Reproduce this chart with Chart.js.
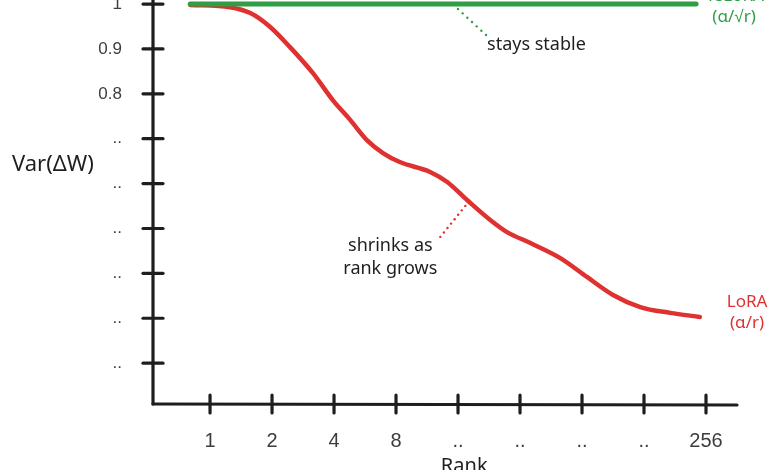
<!DOCTYPE html>
<html>
<head>
<meta charset="utf-8">
<script src="https://cdn.jsdelivr.net/npm/chart.js@4"></script>
<style>
  html, body { margin: 0; padding: 0; background: #fff; }
</style>
</head>
<body>
<canvas id="myChart" width="780" height="470"></canvas>
<script>
// x axis is log2(rank): 0 -> rank 1 ... 8 -> rank 256
var rankTicks = [0, 1, 2, 3, 4, 5, 6, 7, 8];
var rankLabels = ['1', '2', '4', '8', '..', '..', '..', '..', '256'];

var varTicks = [1, 0.9, 0.8, 0.7, 0.6, 0.5, 0.4, 0.3, 0.2];
var varLabels = ['1', '0.9', '0.8', '..', '..', '..', '..', '..', '..'];

// LoRA (alpha/r): variance shrinks as rank grows
var loraX = [-0.32, 0.32, 0.65, 0.97, 1.29, 1.66, 1.98, 2.26, 2.53, 2.79, 3.06, 3.55, 3.82, 4.15, 4.52, 4.79, 5.16, 5.65, 6.08, 6.5, 6.94, 7.42, 7.9];
var loraY = [0.998, 0.993, 0.98, 0.949, 0.904, 0.846, 0.786, 0.742, 0.697, 0.668, 0.648, 0.626, 0.604, 0.563, 0.519, 0.492, 0.468, 0.434, 0.392, 0.352, 0.325, 0.312, 0.303];

// rsLoRA (alpha/sqrt r): stays stable
var rsloraX = [-0.32, 3.8, 7.84];
var rsloraY = [1.0, 1.0, 1.0];

var green = '#2f9e44';
var red = '#e03131';
var ink = '#1e1e1e';
var hand = '"Noto Sans", sans-serif';

function toPoints(xs, ys) {
    return xs.map(function (v, i) { return { x: v, y: ys[i] }; });
}

function line(ctx, x1, y1, x2, y2) {
    ctx.beginPath();
    ctx.moveTo(x1, y1);
    ctx.lineTo(x2, y2);
    ctx.stroke();
}

function dotted(ctx, x1, y1, x2, y2, color) {
    var n = Math.round(Math.hypot(x2 - x1, y2 - y1) / 6);
    ctx.fillStyle = color;
    for (var i = 0; i <= n; i++) {
        ctx.beginPath();
        ctx.arc(x1 + (x2 - x1) * i / n, y1 + (y2 - y1) * i / n, 1.2, 0, Math.PI * 2);
        ctx.fill();
    }
}

const sketchPlugin = {
    id: 'sketch',
    afterDraw(chart) {
        const ctx = chart.ctx;
        const area = chart.chartArea;
        const x = chart.scales.x;
        const y = chart.scales.y;
        ctx.save();

        // axes with ticks crossing them
        ctx.strokeStyle = ink;
        ctx.lineWidth = 3.2;
        ctx.lineCap = 'round';
        line(ctx, area.left, 0, area.left, area.bottom);
        line(ctx, area.left, area.bottom, area.right, area.bottom + 1);
        y.ticks.forEach(function (t) {
            var py = y.getPixelForValue(t.value);
            line(ctx, area.left - 10, py, area.left + 10, py);
        });
        x.ticks.forEach(function (t) {
            var px = x.getPixelForValue(t.value);
            line(ctx, px, area.bottom - 9, px, area.bottom + 9);
        });

        // axis titles
        ctx.fillStyle = ink;
        ctx.font = '22px ' + hand;
        ctx.textAlign = 'left';
        ctx.textBaseline = 'middle';
        ctx.fillText('Var(ΔW)', 12, 165);
        ctx.font = '20px ' + hand;
        ctx.textAlign = 'center';
        ctx.textBaseline = 'top';
        ctx.fillText('Rank', x.getPixelForValue(4.1), 456);

        // series labels at the right end
        var endX = x.getPixelForValue(rsloraX[rsloraX.length - 1]);
        ctx.font = '17px ' + hand;
        ctx.textBaseline = 'middle';
        ctx.fillStyle = green;
        ctx.fillText('rsLoRA', endX + 40, y.getPixelForValue(1) - 8);
        ctx.fillText('(α/√r)', endX + 38, y.getPixelForValue(1) + 13);
        ctx.fillStyle = red;
        var loraEnd = y.getPixelForValue(loraY[loraY.length - 1]);
        ctx.fillText('LoRA', endX + 51, loraEnd - 15);
        ctx.fillText('(α/r)', endX + 51, loraEnd + 6);

        // annotations
        ctx.font = '18px ' + hand;
        var gx = x.getPixelForValue(4);
        var gy = y.getPixelForValue(1);
        dotted(ctx, gx, gy + 5, gx + 28, gy + 31, green);
        ctx.fillStyle = ink;
        ctx.textAlign = 'left';
        ctx.fillText('stays stable', gx + 29, gy + 41);

        var rx = x.getPixelForValue(4.15);
        var ry = y.getPixelForValue(0.557);
        dotted(ctx, rx - 2, ry + 3, rx - 27, ry + 34, red);
        ctx.fillStyle = ink;
        ctx.textAlign = 'center';
        ctx.fillText('shrinks as', rx - 77, ry + 43);
        ctx.fillText('rank grows', rx - 77, ry + 66);

        ctx.restore();
    }
};

var ctx = document.getElementById('myChart').getContext('2d');
var myChart = new Chart(ctx, {
    type: 'line',
    data: {
        datasets: [
            {
                label: 'rsLoRA',
                data: toPoints(rsloraX, rsloraY),
                borderColor: green,
                borderWidth: 5,
                pointRadius: 0,
                borderCapStyle: 'round',
                clip: false,
            },
            {
                label: 'LoRA',
                data: toPoints(loraX, loraY),
                borderColor: red,
                borderWidth: 4.5,
                pointRadius: 0,
                borderCapStyle: 'round',
                cubicInterpolationMode: 'monotone',
                clip: false,
            },
        ],
    },
    options: {
        responsive: false,
        animation: false,
        layout: { autoPadding: false, padding: { top: 0, right: 43, left: 0, bottom: 0 } },
        plugins: {
            legend: { display: false },
            tooltip: { enabled: false },
        },
        scales: {
            x: {
                type: 'linear',
                min: -0.92,
                max: 8.5,
                grid: { display: false },
                border: { display: false },
                afterBuildTicks: function (scale) {
                    scale.ticks = rankTicks.map(function (v) { return { value: v }; });
                },
                afterFit: function (scale) { scale.height = 66; },
                ticks: {
                    padding: 17,
                    maxRotation: 0,
                    autoSkip: false,
                    color: '#3d3d3d',
                    font: { family: 'Liberation Sans', size: 20 },
                    callback: function (v) { return rankLabels[rankTicks.indexOf(v)]; },
                },
            },
            y: {
                type: 'linear',
                min: 0.109,
                max: 1.009,
                grid: { display: false },
                border: { display: false },
                afterBuildTicks: function (scale) {
                    scale.ticks = varTicks.map(function (v) { return { value: v }; });
                },
                afterFit: function (scale) {
                    scale.width = 153;
                    // let the plot reach the very top of the canvas
                    scale.paddingTop = 0;
                    scale.paddingBottom = 0;
                },
                ticks: {
                    padding: 23,
                    autoSkip: false,
                    color: '#3d3d3d',
                    font: { family: 'Liberation Sans', size: 17 },
                    callback: function (v) { return varLabels[varTicks.indexOf(v)]; },
                },
            },
        },
    },
    plugins: [sketchPlugin],
});
</script>
</body>
</html>
